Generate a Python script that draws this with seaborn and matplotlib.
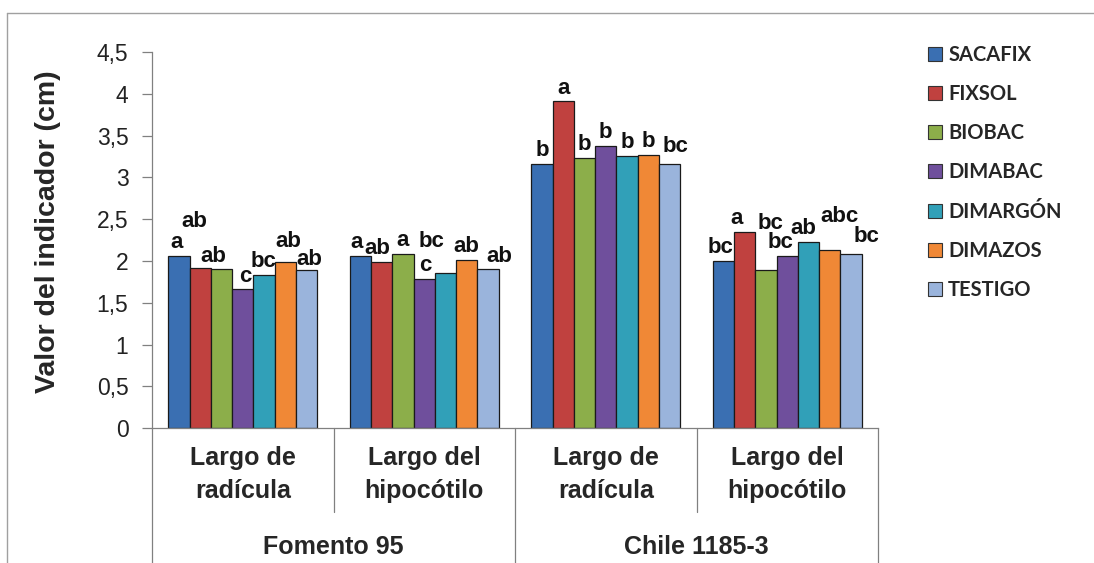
import numpy as np
import pandas as pd
import seaborn as sns
import matplotlib.pyplot as plt
import matplotlib.transforms as mtransforms
from matplotlib.lines import Line2D
from matplotlib.patches import Patch
from matplotlib.ticker import FuncFormatter

# datos
variedades = ['Fomento 95', 'Chile 1185-3']
indicadores = ['Largo de\nradícula', 'Largo del\nhipocótilo']
tratamientos = ['SACAFIX', 'FIXSOL', 'BIOBAC', 'DIMABAC', 'DIMARGÓN', 'DIMAZOS', 'TESTIGO']

# valores por tratamiento: F95 radicula, F95 hipocotilo, Ch radicula, Ch hipocotilo
sacafix = [2.06, 2.06, 3.16, 2.00]
fixsol = [1.92, 1.99, 3.91, 2.35]
biobac = [1.90, 2.09, 3.23, 1.89]
dimabac = [1.66, 1.79, 3.38, 2.06]
dimargon = [1.83, 1.86, 3.26, 2.23]
dimazos = [1.99, 2.01, 3.27, 2.13]
testigo = [1.89, 1.90, 3.16, 2.08]

letras_sacafix = ['a', 'a', 'b', 'bc']
letras_fixsol = ['ab', 'ab', 'a', 'a']
letras_biobac = ['ab', 'a', 'b', 'bc']
letras_dimabac = ['c', 'c', 'b', 'bc']
letras_dimargon = ['bc', 'bc', 'b', 'ab']
letras_dimazos = ['ab', 'ab', 'b', 'abc']
letras_testigo = ['ab', 'ab', 'bc', 'bc']

valores = [sacafix, fixsol, biobac, dimabac, dimargon, dimazos, testigo]
letras = [letras_sacafix, letras_fixsol, letras_biobac, letras_dimabac,
          letras_dimargon, letras_dimazos, letras_testigo]

colores = ['#3a6fb2', '#c0413f', '#8cae4a', '#6f4f9c', '#31a0b8', '#f08836', '#9ab4dc']

# desplazamiento (puntos) de algunas etiquetas, como en el original
dy = [[0, 0, 0, 0], [24, 0, 0, 0], [0, 0, 0, 24], [0, 0, 0, 0],
      [0, 13, 0, 0], [5, 0, 0, 15], [-2, 0, 3, 3]]
dx = [[-2, -3, 0, -2], [-4, -3, 0, -6], [-6, 0, 0, 3], [2, 1, 0, -5],
      [0, -10, 0, -4], [2, 0, 0, 7], [2, 8, 4, 11]]

cats = [v + '|' + i for v in variedades for i in indicadores]
filas = []
for t, vals in zip(tratamientos, valores):
    for c, v in zip(cats, vals):
        filas.append({'cat': c, 'trat': t, 'valor': v})
df = pd.DataFrame(filas)

sns.set_style('white')
plt.rcParams['font.family'] = ['Liberation Sans', 'DejaVu Sans']

fig = plt.figure(figsize=(10.94, 5.63), dpi=100)
ax = fig.add_axes([152 / 1094, 1 - 428.3 / 563, 726 / 1094, 376.3 / 563])

sns.barplot(data=df, x='cat', y='valor', hue='trat', order=cats, hue_order=tratamientos,
            palette=colores, width=0.82, edgecolor='#1a1a1a', linewidth=0.9,
            saturation=1, legend=False, ax=ax)

for cont, labs, ey, ex in zip(ax.containers, letras, dy, dx):
    for bar, lab, oy, ox in zip(cont, labs, ey, ex):
        ax.annotate(lab, (bar.get_x() + bar.get_width() / 2, bar.get_height()),
                    xytext=(ox, 2 + oy), textcoords='offset points', ha='center', va='bottom',
                    fontsize=16, fontweight='bold', color='#111111')

ax.set_ylim(0, 4.5)
ax.set_xlim(-0.5, 3.5)
ax.set_yticks(np.arange(0, 4.51, 0.5))
ax.yaxis.set_major_formatter(FuncFormatter(lambda v, p: f'{v:g}'.replace('.', ',')))
ax.tick_params(axis='y', left=True, length=7, width=0.9, color='#808080', pad=10,
               labelsize=16.5, labelcolor='#222222')
ax.set_xticks(range(4))
ax.set_xticklabels(indicadores * 2, fontsize=18, fontweight='bold', linespacing=1.45)
ax.tick_params(axis='x', length=0, pad=13)
ax.set_xlabel('')
ax.set_ylabel('Valor del indicador (cm)', fontsize=20.5, fontweight='bold')
ax.yaxis.set_label_coords(-0.126, 0.523)

for s in ['top', 'right']:
    ax.spines[s].set_visible(False)
for s in ['left', 'bottom']:
    ax.spines[s].set_color('#808080')
    ax.spines[s].set_linewidth(0.9)

# separadores de categorias
trans = mtransforms.blended_transform_factory(ax.transData, ax.transAxes)
for x, y0 in [(-0.5, -0.358), (0.5, -0.222), (1.5, -0.358), (2.5, -0.222), (3.5, -0.358)]:
    ax.plot([x, x], [0, y0], transform=trans, color='#808080', lw=0.9, clip_on=False)

transf = mtransforms.blended_transform_factory(ax.transData, fig.transFigure)
for k, v in enumerate(variedades):
    ax.text(2 * k + 0.5, 1 - 547 / 563, v, transform=transf, ha='center', va='center',
            fontsize=18, fontweight='bold')

# leyenda
handles = [Patch(facecolor=c, edgecolor='#333333', linewidth=0.8) for c in colores]
fig.legend(handles, tratamientos, loc='upper left', bbox_to_anchor=(918 / 1094, 1 - 35 / 563),
           frameon=False, borderpad=0, handlelength=0.7, handleheight=0.7, handletextpad=0.3,
           labelspacing=0.95, prop={'family': 'Lato', 'weight': 'bold', 'size': 14.5})

# marco exterior
fig.add_artist(Line2D([7 / 1094, 1], [1 - 13 / 563, 1 - 13 / 563], color='#a0a0a0', lw=1))
fig.add_artist(Line2D([7 / 1094, 7 / 1094], [0, 1 - 13 / 563], color='#a0a0a0', lw=1))

fig.savefig('out.png', dpi=100)
